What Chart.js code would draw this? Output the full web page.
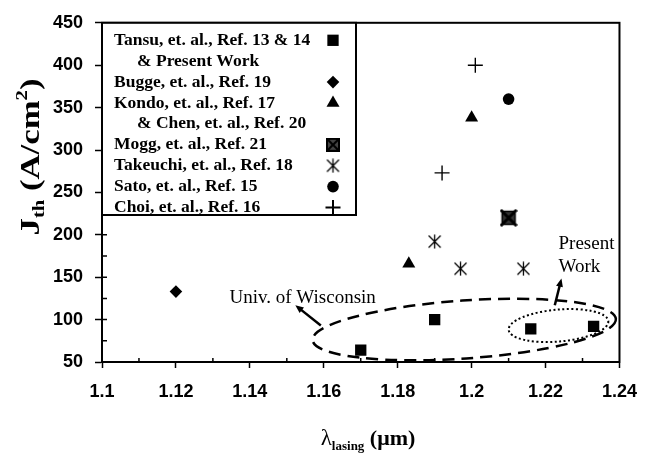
<!DOCTYPE html>
<html>
<head>
<meta charset="utf-8">
<script src="https://cdn.jsdelivr.net/npm/chart.js@4.4.1/dist/chart.umd.min.js"></script>
<style>
  html, body { margin: 0; padding: 0; background: #fff; }
</style>
</head>
<body>
<canvas id="chart" width="650" height="455"></canvas>
<script>
// ---- Data ----
const xTicks = [1.1, 1.12, 1.14, 1.16, 1.18, 1.2, 1.22, 1.24];
const yTicks = [50, 100, 150, 200, 250, 300, 350, 400, 450];

const tansuX = [1.17, 1.19, 1.216, 1.233];
const tansuY = [64, 100, 89, 92];
const buggeX = [1.12];
const buggeY = [133];
const kondoX = [1.183, 1.2];
const kondoY = [166, 338];
const moggX = [1.21];
const moggY = [220];
const takeuchiX = [1.19, 1.197, 1.214];
const takeuchiY = [192, 160, 160];
const satoX = [1.21];
const satoY = [360];
const choiX = [1.192, 1.201];
const choiY = [273, 400];

const legendLabels = [
  ["Tansu, et. al., Ref. 13 & 14", "& Present Work"],
  ["Bugge, et. al., Ref. 19"],
  ["Kondo, et. al., Ref. 17", "& Chen, et. al., Ref. 20"],
  ["Mogg, et. al., Ref. 21"],
  ["Takeuchi, et. al., Ref. 18"],
  ["Sato, et. al., Ref. 15"],
  ["Choi, et. al., Ref. 16"],
];

// ---- Annotations (data units, radii in px) ----
const notes = {
  wiscText: { x: 1.1345, y: 126, text: "Univ. of Wisconsin" },
  wiscArrow: { from: [1.1592, 93], to: [1.1523, 117] },
  wiscOval: { x: 1.198, y: 88.3, rx: 152, ry: 29, rot: -4 },
  presentText: { x: 1.2235, y: [189, 162.5], text: ["Present", "Work"] },
  presentArrow: { from: [1.2225, 117], to: [1.2243, 148.5] },
  presentOval: { x: 1.2235, y: 93, rx: 50, ry: 16, rot: -5 },
};

// ---- Custom markers ----
function markerCanvas(size, draw) {
  const c = document.createElement("canvas");
  c.width = size; c.height = size;
  draw(c.getContext("2d"), size);
  return c;
}

const moggMarker = markerCanvas(18, (g, s) => {
  g.fillStyle = "#333";
  g.fillRect(2, 2, s - 4, s - 4);
  g.strokeStyle = "#000";
  g.lineWidth = 1.5;
  g.strokeRect(2.5, 2.5, s - 5, s - 5);
  g.lineWidth = 3;
  g.beginPath();
  g.moveTo(1, 1); g.lineTo(s - 1, s - 1);
  g.moveTo(s - 1, 1); g.lineTo(1, s - 1);
  g.stroke();
});

const moggLegend = markerCanvas(14, (g, s) => {
  g.fillStyle = "#444";
  g.fillRect(1, 1, s - 2, s - 2);
  g.strokeStyle = "#000";
  g.lineWidth = 2;
  g.strokeRect(1, 1, s - 2, s - 2);
  g.lineWidth = 2;
  g.beginPath();
  g.moveTo(0, 0); g.lineTo(s, s);
  g.moveTo(s, 0); g.lineTo(0, s);
  g.stroke();
});

const starMarker = markerCanvas(15, (g, s) => {
  g.strokeStyle = "#000";
  g.lineWidth = 1.3;
  g.beginPath();
  g.moveTo(s / 2, 0.5); g.lineTo(s / 2, s - 0.5);
  g.moveTo(1.5, 1.5); g.lineTo(s - 1.5, s - 1.5);
  g.moveTo(s - 1.5, 1.5); g.lineTo(1.5, s - 1.5);
  g.stroke();
});

const pts = (xs, ys) => xs.map((x, i) => ({ x, y: ys[i] }));

const series = (data, style, radius, extra) => Object.assign({
  data,
  pointStyle: style,
  pointRadius: radius,
  pointHoverRadius: radius,
  backgroundColor: "#000",
  borderColor: "#000",
  pointBorderWidth: 0,
}, extra || {});

const datasets = [
  series(pts(tansuX, tansuY), "rect", 8),
  series(pts(buggeX, buggeY), "rectRot", 6.3),
  series(pts(kondoX, kondoY), "triangle", 7.5),
  series(pts(moggX, moggY), moggMarker, 9),
  series(pts(takeuchiX, takeuchiY), starMarker, 7),
  series(pts(satoX, satoY), "circle", 5.8),
  series(pts(choiX, choiY), "cross", 7.5, { pointBorderWidth: 1.4 }),
];

// ---- Drawing helpers ----
const SERIF = "'Liberation Serif', 'Times New Roman', serif";

function arrow(ctx, x1, y1, x2, y2) {
  const ang = Math.atan2(y2 - y1, x2 - x1);
  const head = 9;
  ctx.beginPath();
  ctx.moveTo(x1, y1);
  ctx.lineTo(x2 - Math.cos(ang) * head * 0.7, y2 - Math.sin(ang) * head * 0.7);
  ctx.stroke();
  ctx.beginPath();
  ctx.moveTo(x2, y2);
  ctx.lineTo(x2 - head * Math.cos(ang - 0.4), y2 - head * Math.sin(ang - 0.4));
  ctx.lineTo(x2 - head * Math.cos(ang + 0.4), y2 - head * Math.sin(ang + 0.4));
  ctx.closePath();
  ctx.fill();
}

function oval(ctx, x, y, o, dash, width) {
  ctx.save();
  ctx.setLineDash(dash);
  ctx.lineWidth = width;
  ctx.beginPath();
  ctx.ellipse(x.getPixelForValue(o.x), y.getPixelForValue(o.y), o.rx, o.ry, o.rot * Math.PI / 180, 0, Math.PI * 2);
  ctx.stroke();
  ctx.restore();
}

// draws runs of [text, size, baselineShift, bold] left to right
function runs(ctx, parts, x, y) {
  let cx = x;
  parts.forEach(([t, size, dy, bold]) => {
    ctx.font = `${bold ? "bold " : ""}${size}px ${SERIF}`;
    ctx.fillText(t, cx, y + dy);
    cx += ctx.measureText(t).width;
  });
  return cx - x;
}

function runsWidth(ctx, parts) {
  return parts.reduce((w, [t, size, , bold]) => {
    ctx.font = `${bold ? "bold " : ""}${size}px ${SERIF}`;
    return w + ctx.measureText(t).width;
  }, 0);
}

// ---- Plugin: frame, inner ticks, titles, notes, legend ----
const decor = {
  id: "decor",
  afterDraw(chart) {
    const { ctx, chartArea: a, scales: { x, y } } = chart;
    ctx.save();
    ctx.strokeStyle = "#000";
    ctx.fillStyle = "#000";

    // frame
    ctx.lineWidth = 2;
    ctx.strokeRect(a.left, a.top, a.right - a.left, a.bottom - a.top);

    // inward ticks
    ctx.lineWidth = 1.5;
    ctx.beginPath();
    for (let i = 0; i < xTicks.length - 1; i++) {
      const px = x.getPixelForValue((xTicks[i] + xTicks[i + 1]) / 2);
      ctx.moveTo(px, a.bottom); ctx.lineTo(px, a.bottom - 4);
    }
    yTicks.forEach((v, i) => {
      const py = y.getPixelForValue(v);
      ctx.moveTo(a.left, py); ctx.lineTo(a.left + 5, py);
      if (i < yTicks.length - 1) {
        const pm = y.getPixelForValue((v + yTicks[i + 1]) / 2);
        ctx.moveTo(a.left, pm); ctx.lineTo(a.left + 5, pm);
      }
    });
    ctx.stroke();

    // axis titles
    ctx.textBaseline = "alphabetic";
    ctx.textAlign = "left";
    const xt = [["λ", 23, 0, false], ["lasing", 13, 5, true], [" (μm)", 22, 0, true]];
    runs(ctx, xt, 368 - runsWidth(ctx, xt) / 2, 445);

    const yt = [["J", 27, 0, true], ["th", 16, 5, true], [" (A/cm", 27, 0, true], ["2", 16, -12, true], [")", 27, 0, true]];
    const yw = runsWidth(ctx, yt);
    ctx.save();
    ctx.translate(39, 157);
    ctx.rotate(-Math.PI / 2);
    ctx.scale(157 / yw, 1);
    runs(ctx, yt, -yw / 2, 0);
    ctx.restore();

    // notes
    ctx.font = `19px ${SERIF}`;
    ctx.textBaseline = "middle";
    ctx.fillText(notes.wiscText.text, x.getPixelForValue(notes.wiscText.x), y.getPixelForValue(notes.wiscText.y));
    notes.presentText.text.forEach((t, i) => {
      ctx.fillText(t, x.getPixelForValue(notes.presentText.x), y.getPixelForValue(notes.presentText.y[i]));
    });

    oval(ctx, x, y, notes.wiscOval, [12, 7], 2.5);
    oval(ctx, x, y, notes.presentOval, [2, 2.5], 2);

    ctx.lineWidth = 2.5;
    [notes.wiscArrow, notes.presentArrow].forEach(ar => {
      arrow(ctx,
        x.getPixelForValue(ar.from[0]), y.getPixelForValue(ar.from[1]),
        x.getPixelForValue(ar.to[0]), y.getPixelForValue(ar.to[1]));
    });

    // legend box
    const box = { left: a.left, top: a.top, right: 356, bottom: 215 };
    ctx.fillStyle = "#fff";
    ctx.fillRect(box.left, box.top, box.right - box.left, box.bottom - box.top);
    ctx.lineWidth = 2;
    ctx.strokeRect(box.left, box.top, box.right - box.left, box.bottom - box.top);

    ctx.fillStyle = "#000";
    ctx.font = `bold 17.5px ${SERIF}`;
    ctx.textBaseline = "middle";
    let row = 0;
    legendLabels.forEach((lines, i) => {
      const ds = chart.data.datasets[i];
      lines.forEach((t, j) => {
        const ly = box.top + 17.5 + row * 20.9;
        ctx.fillText(t, j === 0 ? 114 : 137, ly);
        if (j === 0) {
          Chart.helpers.drawPoint(ctx, {
            pointStyle: ds.pointStyle === moggMarker ? moggLegend : ds.pointStyle,
            radius: ds.pointRadius,
            rotation: 0,
            borderWidth: ds.pointBorderWidth || 0,
          }, 333, ly);
          ctx.fillStyle = "#000";
        }
        row++;
      });
    });
    ctx.restore();
  }
};

// ---- Chart ----
const tickFont = { family: "'Liberation Sans', Arial, sans-serif", size: 18, weight: "bold" };

new Chart(document.getElementById("chart"), {
  type: "scatter",
  data: { datasets },
  options: {
    responsive: false,
    animation: false,
    layout: { padding: { top: 17, right: 21, bottom: 0, left: 0 } },
    plugins: { legend: { display: false }, tooltip: { enabled: false } },
    scales: {
      x: {
        type: "linear",
        min: xTicks[0],
        max: xTicks[xTicks.length - 1],
        afterBuildTicks: s => { s.ticks = xTicks.map(value => ({ value })); },
        afterFit: s => { s.height = 93; },
        ticks: { color: "#000", font: tickFont, padding: 13, maxRotation: 0, callback: v => String(+v.toFixed(2)) },
        grid: { drawOnChartArea: false, tickLength: 6, tickWidth: 1.5, tickColor: "#000" },
        border: { color: "#000", width: 2 },
      },
      y: {
        type: "linear",
        min: yTicks[0],
        max: yTicks[yTicks.length - 1],
        afterBuildTicks: s => { s.ticks = yTicks.map(value => ({ value })); },
        afterFit: s => { s.width = 102; },
        ticks: { color: "#000", font: tickFont, padding: 12, callback: v => String(v) },
        grid: { drawOnChartArea: false, tickLength: 7, tickWidth: 1.5, tickColor: "#000" },
        border: { color: "#000", width: 2 },
      },
    },
  },
  plugins: [decor],
});
</script>
</body>
</html>
